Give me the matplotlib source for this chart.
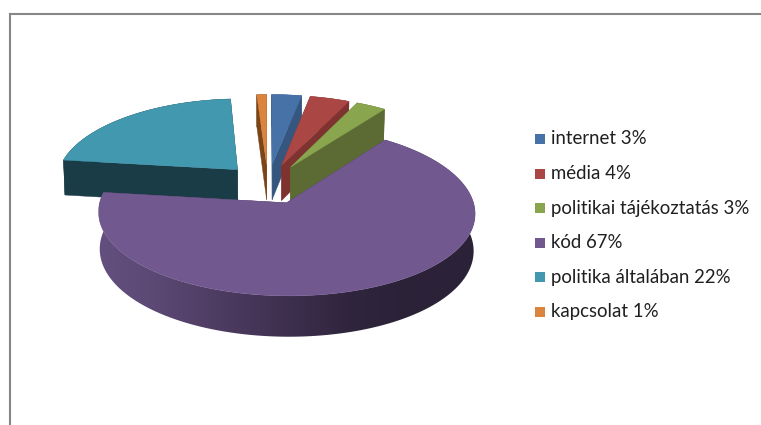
import numpy as np
import matplotlib
matplotlib.use("Agg")
import matplotlib.pyplot as plt
from matplotlib.colors import LinearSegmentedColormap
from matplotlib.patches import Polygon, Rectangle

plt.rcParams['font.family'] = ['Lato', 'DejaVu Sans']

categories = ["internet", "média", "politikai tájékoztatás", "kód", "politika általában", "kapcsolat"]
percents = [3, 4, 3, 67, 22, 1]

top_colors = ["#4672a8", "#aa4644", "#89a54e", "#71588f", "#4198af", "#db843d"]
side_colors = ["#35577f", "#7f3331", "#5b6b33", "#4a3a5e", "#1a3c47", "#7a4519"]
rim_shades = ["#64507f", "#5a4772", "#4c3b60", "#3e2f4f", "#2f253c", "#2b2238", "#2b2238"]

# projection of the tilted pie, in pixels
CX, CY = 268, 184
RX, RY = 182, 80.2
PERSP_X, PERSP_Y = 0.115, 0.0965
DEPTH = 36
EXPLODE = 0.25


def project(u, v, z=0.0):
    sx = 1 / (1 - PERSP_X * v)
    sy = 1 / (1 - PERSP_Y * v)
    x = CX + RX * u * sx * (1 - 0.007 * z)
    y = CY + (RY * v + DEPTH * z) * sy
    return np.column_stack([x, y])


fig = plt.figure(figsize=(7.61, 4.25), dpi=100)
ax = fig.add_axes([10 / 761, 0, 751 / 761, 411 / 425])
ax.set_xlim(10, 761)
ax.set_ylim(425, 14)
ax.set_xticks([])
ax.set_yticks([])
for name in ["right", "bottom"]:
    ax.spines[name].set_visible(False)
for name in ["left", "top"]:
    ax.spines[name].set_color("#868686")
    ax.spines[name].set_linewidth(1.5)

# angles run clockwise from twelve o'clock
edges = np.cumsum([0] + percents) / sum(percents) * 2 * np.pi
slices = []
for i in range(len(percents)):
    t = np.linspace(edges[i], edges[i + 1], max(int(percents[i] * 4), 8))
    mid = (edges[i] + edges[i + 1]) / 2
    du, dv = EXPLODE * np.sin(mid), -EXPLODE * np.cos(mid)
    slices.append((t, du, dv))

# far slices first, the big front slice last
order = [4, 5, 0, 1, 2, 3]
zo = 2
for i in order:
    t, du, dv = slices[i]
    u = du + np.sin(t)
    v = dv - np.cos(t)

    for end in (0, -1):
        side = np.vstack([
            project(np.array([du]), np.array([dv])),
            project(u[[end]], v[[end]]),
            project(u[[end]], v[[end]], 1),
            project(np.array([du]), np.array([dv]), 1),
        ])
        ax.add_patch(Polygon(side, closed=True, fc=side_colors[i], ec=side_colors[i], lw=0.3, zorder=zo))

    rim = np.vstack([project(u, v), project(u, v, 1)[::-1]])
    if categories[i] == "kód":
        # outer wall of the big slice fades from left to right
        cmap = LinearSegmentedColormap.from_list("rim", rim_shades)
        patch = Polygon(rim, closed=True, fc="none", ec="none", zorder=zo)
        ax.add_patch(patch)
        xs = rim[:, 0]
        img = ax.imshow(np.linspace(1, 0, 256)[None, :], cmap=cmap, aspect="auto",
                        extent=[xs.max(), xs.min(), rim[:, 1].max(), rim[:, 1].min()],
                        zorder=zo, interpolation="bilinear")
        img.set_clip_path(patch)
    else:
        ax.add_patch(Polygon(rim, closed=True, fc=side_colors[i], ec=side_colors[i], lw=0.3, zorder=zo))

    top = np.vstack([project(np.array([du]), np.array([dv])), project(u, v)])
    ax.add_patch(Polygon(top, closed=True, fc=top_colors[i], ec=top_colors[i], lw=0.3, zorder=zo + 0.5))
    zo += 1

ax.set_xlim(10, 761)
ax.set_ylim(425, 14)

# legend
legend_y = np.linspace(139, 312, len(categories))
for name, pct, color, y in zip(categories, percents, top_colors, legend_y):
    ax.add_patch(Rectangle((535, y - 5), 10, 10, fc=color, ec="none", zorder=20))
    ax.text(551, y, f"{name} {pct}%", fontsize=13.4, color="#1f1f1f", va="center", ha="left", zorder=20)

fig.savefig("out.png", dpi=100, facecolor="white")
